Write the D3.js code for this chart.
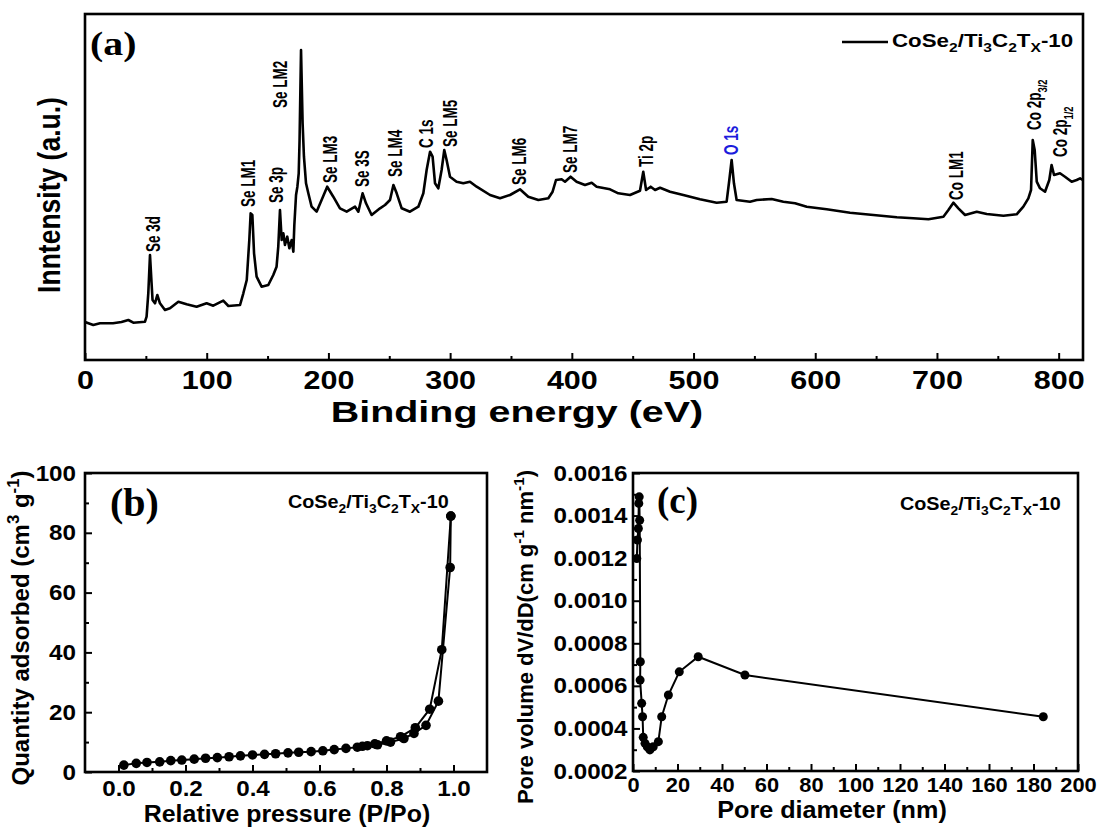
<!DOCTYPE html>
<html>
<head>
<meta charset="utf-8">
<script src="https://d3js.org/d3.v7.min.js"></script>
<style>
  body { margin: 0; background: #fff; }
  svg { display: block; }
</style>
</head>
<body>
<div id="vis"></div>
<script>
// ---- data ----

// (a) XPS survey spectrum, binding energy (eV) vs intensity (a.u.)
const xpsEnergy = [0, 6.8, 12.3, 23, 30, 35.6, 39.7, 49.3, 50.6, 52, 53.4, 54.7, 55.5, 57.5, 59.4, 61.6, 65.7, 69.8, 76.7, 83.5,
  91.7, 99.9, 105.4, 113.6, 117.8, 127.4, 130.1, 132.9, 135, 136.1, 137.5, 138.9, 141, 145.1, 150.6, 154.7, 157.4, 158.8, 160.2, 161.6,
  163, 164.3, 166.2, 167.9, 169.8, 171.2, 172, 173.4, 174.5, 175.6, 176.3, 177.5, 178.8, 179.9, 181.6, 183.5, 186.2, 190.3, 194.4, 199,
  204, 209.5, 215, 221.9, 224.6, 228.1, 230.9, 235.5, 242.4, 246.5, 250.6, 253.4, 256.1, 260.2, 267, 273.9, 278, 280.7, 283.5, 285.6,
  287.6, 290.3, 293, 295.2, 297.1, 299.9, 305.3, 310.8, 316.3, 321.8, 332.8, 341, 349.2, 357.4, 364.2, 372.5, 380.7, 384.2, 387, 391.6,
  394.4, 399, 403.9, 410.8, 416.3, 420.4, 431.4, 438.2, 447.8, 456, 458.7, 461, 464.8, 468.4, 472.5, 480.7, 491.6, 505.3, 519, 527.2,
  529.4, 531.3, 533.2, 535.4, 546.4, 551.9, 564.2, 573.8, 583.4, 593, 609.4, 628.6, 647.8, 667, 680.6, 693, 705.3, 709.4, 713.5, 717.6,
  723.1, 732.7, 740.9, 754.6, 765.5, 771, 775.1, 777.3, 778.7, 780.3, 782, 784.7, 788.8, 792.3, 794.2, 796.2, 801.1, 805.2, 810.7, 814.8,
  817.6, 819.8];
const xpsIntensity = [38, 35, 36.7, 36.7, 38, 40, 37.3, 38.3, 43.3, 66.7, 105, 76.7, 60, 56.7, 65, 56.7, 50, 51.7, 58.3, 55.7,
  53.3, 56.7, 54.3, 59.3, 54, 55, 66.7, 80, 120, 146.7, 145, 106.7, 83.3, 73.3, 75, 85, 93.3, 113.3, 150, 120,
  126.7, 115, 123.3, 111.7, 120, 108.3, 135, 165, 173.3, 186.7, 220, 310, 236.7, 203.3, 176.7, 166.7, 153.3, 148.3, 160, 173.3,
  163.3, 151.7, 148.3, 153.3, 148.3, 166.7, 156.7, 145, 151.7, 155, 160, 175, 166.7, 151.7, 148.3, 153.3, 166.7, 190, 208.3, 203.3,
  176.7, 171.7, 190, 210, 200, 183.3, 178.3, 176.7, 178.3, 173.3, 165, 161.7, 165, 170.7, 163.3, 160, 161.7, 168.3, 180, 180.7,
  178.3, 183.3, 178.3, 175, 177.3, 173.3, 170.7, 166.7, 165, 169.3, 188.3, 170, 173.3, 170, 172.3, 168.3, 165, 160.7, 157.3, 158.3,
  180, 200, 176.7, 160, 158.3, 160, 161, 158.3, 156.7, 153.3, 150.7, 147.3, 145, 142.7, 141.7, 140.7, 143.3, 150, 157.3, 151.7,
  145, 148.3, 146, 144.3, 145.7, 153.3, 161.7, 170, 220, 210, 178.3, 171.7, 168.3, 180, 195, 185, 186.7, 183.3, 178.3, 180,
  181.7, 180];

// peak labels: text parts, energy at label centre, intensity at label foot
const peakNames = [
  ["Se 3d"], ["Se LM1"], ["Se 3p"], ["Se LM2"], ["Se LM3"], ["Se 3S"], ["Se LM4"], ["C 1s"], ["Se LM5"],
  ["Se LM6"], ["Se LM7"], ["Ti 2p"], ["O 1s"], ["Co LM1"], ["Co 2p", "3/2"], ["Co 2p", "1/2"]
];
const peakEnergy = [55.5, 134.3, 157, 160.6, 201.7, 227.2, 254.7, 279.8, 299.9, 356.2, 398.1, 461, 530.4, 715.3, 779.8, 801.2];
const peakFoot = [108, 153, 157, 252, 177, 173, 183, 212, 213, 175, 187, 193, 205, 160, 230, 203];

const xpsTicks = [0, 100, 200, 300, 400, 500, 600, 700, 800];
const xpsMinor = [50, 150, 250, 350, 450, 550, 650, 750];

// (b) N2 isotherm
const adsP = [0.016, 0.053, 0.085, 0.123, 0.156, 0.189, 0.226, 0.26, 0.295, 0.33, 0.364, 0.40, 0.436, 0.469, 0.506, 0.538,
  0.575, 0.61, 0.644, 0.679, 0.713, 0.743, 0.773, 0.812, 0.852, 0.882, 0.918, 0.955, 0.99, 0.992];
const adsQ = [2.3, 2.9, 3.2, 3.4, 3.8, 4.0, 4.3, 4.6, 4.8, 5.1, 5.4, 5.7, 5.9, 6.1, 6.4, 6.6,
  6.8, 7.1, 7.5, 7.9, 8.3, 8.8, 9.1, 10.0, 11.2, 12.9, 15.6, 23.7, 68.4, 85.6];
const desP = [0.992, 0.965, 0.929, 0.886, 0.842, 0.80, 0.765, 0.728];
const desQ = [85.6, 40.9, 21.0, 14.8, 11.8, 10.4, 9.4, 8.6];

const isoTicksX = [0, 0.2, 0.4, 0.6, 0.8, 1.0];
const isoMinorX = [0.1, 0.3, 0.5, 0.7, 0.9];
const isoTicksY = [0, 20, 40, 60, 80, 100];
const isoMinorY = [10, 30, 50, 70, 90];

// (c) pore size distribution
const poreD = [184.4, 50.3, 29.3, 20.8, 15.9, 12.9, 11.4, 9.1, 7.6, 6.4, 5.4, 4.6, 4.3, 3.9, 3.2, 3.3, 3.0, 2.8, 2.6, 2.4, 2.0, 1.7];
const poreV = [0.000455, 0.000651, 0.000737, 0.000666, 0.000557, 0.000455, 0.000338, 0.000314, 0.000299, 0.000314, 0.00033, 0.000358,
  0.000455, 0.000518, 0.000627, 0.000713, 0.001378, 0.001488, 0.001457, 0.001339, 0.001285, 0.001198];

const poreTicksX = [0, 20, 40, 60, 80, 100, 120, 140, 160, 180, 200];
const poreMinorX = [10, 30, 50, 70, 90, 110, 130, 150, 170, 190];
const poreTicksY = [0.0002, 0.0004, 0.0006, 0.0008, 0.0010, 0.0012, 0.0014, 0.0016];
const poreMinorY = [0.0003, 0.0005, 0.0007, 0.0009, 0.0011, 0.0013, 0.0015];

const sampleName = [["CoSe", ""], ["2", "sub"], ["/Ti", ""], ["3", "sub"], ["C", ""], ["2", "sub"], ["T", ""], ["X", "sub"], ["-10", ""]];

// ---- drawing ----
const SANS = "Arial, 'Liberation Sans', Helvetica, sans-serif";
const SERIF = "'Times New Roman', 'Liberation Serif', serif";

const svg = d3.select("#vis").append("svg").attr("width", 1101).attr("height", 829);

// text helper: parts = string or [[str, "sub"|"sup"|""], ...]; sx/sy stretch the glyphs
function addText(parent, x, y, parts, o) {
  const size = o.size || 16;
  const g = parent.append("g")
    .attr("transform", `translate(${x},${y}) rotate(${o.rotate || 0}) scale(${o.sx || 1},${o.sy || 1})`);
  const t = g.append("text")
    .attr("text-anchor", o.anchor || "start")
    .attr("font-family", o.family || SANS)
    .attr("font-weight", o.weight || "bold")
    .attr("font-size", size)
    .attr("fill", o.fill || "#000");
  if (typeof parts === "string") parts = [[parts, ""]];
  let shift = 0;
  parts.forEach(([s, kind]) => {
    const want = kind === "sub" ? size * 0.3 : kind === "sup" ? -size * 0.4 : 0;
    t.append("tspan")
      .attr("dy", want - shift)
      .attr("font-size", kind ? size * 0.7 : size)
      .text(s);
    shift = want;
  });
  return g;
}

function frame(x0, y0, x1, y1) {
  svg.append("rect")
    .attr("x", x0).attr("y", y0)
    .attr("width", x1 - x0).attr("height", y1 - y0)
    .attr("fill", "none").attr("stroke", "#000").attr("stroke-width", 2.6);
}

function styleAxis(g, size, sx) {
  g.select(".domain").remove();
  g.selectAll(".tick line").attr("stroke", "#000").attr("stroke-width", 2);
  g.selectAll("text")
    .attr("font-family", SANS).attr("font-weight", "bold")
    .attr("font-size", size).attr("fill", "#000");
  if (sx) {
    g.selectAll("text").each(function () {
      const el = d3.select(this);
      el.attr("x", (+el.attr("x") || 0) / sx).attr("transform", `scale(${sx},1)`);
    });
  }
}

function bottomAxis(scale, y, major, minor, fmt, size, sx, pad) {
  const g = svg.append("g").attr("transform", `translate(0,${y})`)
    .call(d3.axisBottom(scale).tickValues(major).tickSize(-7).tickPadding(pad).tickFormat(fmt));
  styleAxis(g, size, sx);
  const m = svg.append("g").attr("transform", `translate(0,${y})`)
    .call(d3.axisBottom(scale).tickValues(minor).tickSize(-4).tickFormat(""));
  styleAxis(m, size);
}

function leftAxis(scale, x, major, minor, fmt, size, sx, pad) {
  const g = svg.append("g").attr("transform", `translate(${x},0)`)
    .call(d3.axisLeft(scale).tickValues(major).tickSize(-7).tickPadding(pad).tickFormat(fmt));
  styleAxis(g, size, sx);
  const m = svg.append("g").attr("transform", `translate(${x},0)`)
    .call(d3.axisLeft(scale).tickValues(minor).tickSize(-4).tickFormat(""));
  styleAxis(m, size);
}

// ===== (a) =====
const ax = d3.scaleLinear().domain([0, 820]).range([85, 1083]);
const ay = d3.scaleLinear().domain([0, 346]).range([360, 14]);

const xps = xpsEnergy.map((e, i) => [e, xpsIntensity[i]]);
svg.append("path")
  .datum(xps)
  .attr("fill", "none").attr("stroke", "#000").attr("stroke-width", 2.6)
  .attr("stroke-linejoin", "round")
  .attr("d", d3.line().x(d => ax(d[0])).y(d => ay(d[1])));

bottomAxis(ax, 360, xpsTicks, xpsMinor, d3.format("d"), 25, 1.22, 11);
frame(85, 14, 1083, 360);

peakNames.forEach((p, i) => {
  const parts = p.length > 1 ? [[p[0], ""], [p[1], "sub"]] : p[0];
  addText(svg, ax(peakEnergy[i]) + 7, ay(peakFoot[i]), parts,
    { size: 13.5, rotate: -90, sy: 1.45, fill: p[0] === "O 1s" ? "#1c1cdc" : "#000" });
});

addText(svg, 60, 195, "Inntensity (a.u.)", { size: 26.5, rotate: -90, sy: 1.2, anchor: "middle" });
addText(svg, 517, 422, "Binding energy (eV)", { size: 29, sx: 1.36, anchor: "middle" });
addText(svg, 90, 55, "(a)", { family: SERIF, size: 34, sx: 1.17 });

svg.append("line").attr("x1", 842).attr("x2", 888).attr("y1", 42).attr("y2", 42)
  .attr("stroke", "#000").attr("stroke-width", 2.4);
addText(svg, 892, 47, sampleName, { size: 18, sx: 1.24 });

// ===== (b) =====
const bx = d3.scaleLinear().domain([-0.1, 1.1]).range([85, 487]);
const by = d3.scaleLinear().domain([0, 100]).range([772, 473]);
const line = d3.line().x(d => bx(d[0])).y(d => by(d[1]));
const ads = adsP.map((p, i) => [p, adsQ[i]]);
const des = desP.map((p, i) => [p, desQ[i]]);

[ads, des].forEach(s => {
  svg.append("path").datum(s)
    .attr("fill", "none").attr("stroke", "#000").attr("stroke-width", 2)
    .attr("d", line);
  svg.append("g").selectAll("circle").data(s).join("circle")
    .attr("cx", d => bx(d[0])).attr("cy", d => by(d[1])).attr("r", 4.8).attr("fill", "#000");
});

bottomAxis(bx, 772, isoTicksX, isoMinorX, d3.format(".1f"), 22, 1.1, 8);
leftAxis(by, 85, isoTicksY, isoMinorY, d3.format("d"), 22, 1.1, 9);
frame(85, 473, 487, 772);

addText(svg, 29, 628, [["Quantity adsorbed (cm", ""], ["3", "sup"], [" g", ""], ["-1", "sup"], [")", ""]],
  { size: 24, rotate: -90, anchor: "middle" });
addText(svg, 287, 822, "Relative pressure (P/Po)", { size: 23.5, sx: 1.06, anchor: "middle" });
addText(svg, 288, 508, sampleName, { size: 18, sx: 1.1 });
addText(svg, 110, 516, "(b)", { family: SERIF, size: 40 });

// ===== (c) =====
const cx = d3.scaleLinear().domain([0, 200]).range([633, 1078]);
const cy = d3.scaleLinear().domain([0.0002, 0.0016]).range([771, 473]);
const pore = poreD.map((d, i) => [d, poreV[i]]);

svg.append("path").datum(pore)
  .attr("fill", "none").attr("stroke", "#000").attr("stroke-width", 2)
  .attr("d", d3.line().x(d => cx(d[0])).y(d => cy(d[1])));
svg.append("g").selectAll("circle").data(pore).join("circle")
  .attr("cx", d => cx(d[0])).attr("cy", d => cy(d[1])).attr("r", 4.5).attr("fill", "#000");

bottomAxis(cx, 771, poreTicksX, poreMinorX, d3.format("d"), 21, 1.04, 6);
leftAxis(cy, 633, poreTicksY, poreMinorY, d => d.toFixed(4), 22, 1.1, 5.5);
frame(633, 473, 1078, 771);

addText(svg, 533, 637, [["Pore volume dV/dD(cm g", ""], ["-1", "sup"], [" nm", ""], ["-1", "sup"], [")", ""]],
  { size: 22, rotate: -90, anchor: "middle" });
addText(svg, 832, 818, "Pore diameter (nm)", { size: 24, sx: 1.05, anchor: "middle" });
addText(svg, 900, 510, sampleName, { size: 18, sx: 1.1 });
addText(svg, 657, 513, "(c)", { family: SERIF, size: 37 });
</script>
</body>
</html>
